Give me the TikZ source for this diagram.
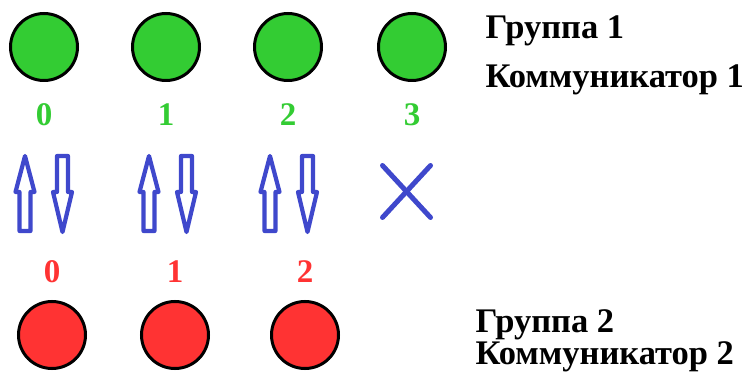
\documentclass[tikz,border=0pt]{standalone}
\usepackage{fontspec}
\setmainfont{Liberation Serif}
\definecolor{grp1}{RGB}{51,204,51}
\definecolor{grp2}{RGB}{255,51,51}
\definecolor{link}{RGB}{63,72,204}
\tikzset{
  proc/.style={circle, draw=black, line width=3pt, minimum size=67pt, inner sep=0pt},
  rank/.style={anchor=base, font=\fontsize{33}{33}\selectfont\bfseries},
  flow/.style={draw=link, line width=4.2pt, line join=round},
  title/.style={anchor=base west, font=\fontsize{34.5}{40}\selectfont\bfseries}
}
\begin{document}
\begin{tikzpicture}[x=1pt, y=-1pt, line cap=round]
  \useasboundingbox (0,0) rectangle (747,374);
  \def \ytop{156};
  \def \ymid{192};
  \def \ybot{231};
  % group 1: four processes
  \foreach \i/\x in {0/44,1/166,2/288,3/412}{
    \node[proc, fill=grp1] (g\i) at (\x,47) {};
    \node[rank, text=grp1] (gl\i) at (\x,126) {\i};
  }
  % group 2: three processes
  \foreach \i/\x in {0/52,1/175,2/305}{
    \node[proc, fill=grp2] (r\i) at (\x,335) {};
    \node[rank, text=grp2] (rl\i) at (\x,283) {\i};
  }
  % hollow arrows up and down
  \foreach \u/\d in {25/62.5,149/186.5,270/307.5}{
    \draw[flow] (\u,\ytop) -- (\u+9.5,\ymid) -- (\u+5.5,\ymid) -- (\u+5.5,\ybot)
      -- (\u-5.5,\ybot) -- (\u-5.5,\ymid) -- (\u-9.5,\ymid) -- cycle;
    \draw[flow] (\d,\ybot+1) -- (\d+9.5,\ymid) -- (\d+5.5,\ymid) -- (\d+5.5,\ytop)
      -- (\d-5.5,\ytop) -- (\d-5.5,\ymid) -- (\d-9.5,\ymid) -- cycle;
  }
  % no partner for rank 3
  \draw[link, line width=5pt] (382.5,165.5) -- (430.5,217.5) (430.5,165.5) -- (382.5,217.5);
  % group labels
  \node[title] (t1a) at (482,39) {Группа 1};
  \node[title] (t1b) at (482,88) {Коммуникатор 1};
  \node[title] (t2a) at (472,332) {Группа 2};
  \node[title] (t2b) at (472,364) {Коммуникатор 2};
\end{tikzpicture}
\end{document}
